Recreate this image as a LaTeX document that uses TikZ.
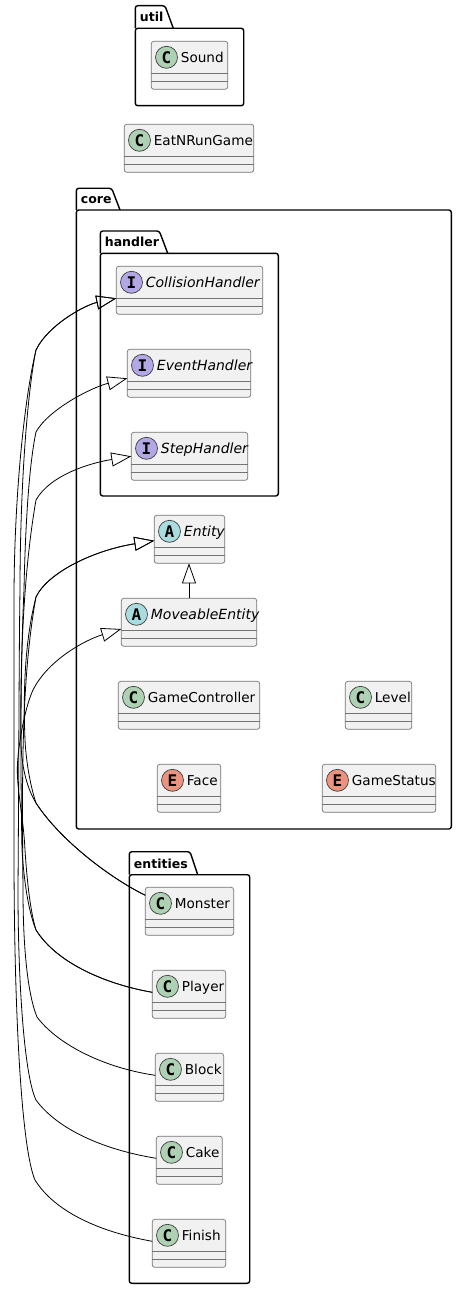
\documentclass[tikz,border=0pt]{standalone}
\usepackage{fontspec}
\setmainfont{DejaVu Sans}
\setmonofont{DejaVu Sans Mono}
\usetikzlibrary{arrows.meta}

\definecolor{spotC}{HTML}{ADD1B2}
\definecolor{spotI}{HTML}{B4A7E5}
\definecolor{spotA}{HTML}{A9DCDF}
\definecolor{spotE}{HTML}{EB937F}

\tikzset{
  classbox/.style={draw=black!55,fill=black!5.5,line width=.7pt,rounded corners=2.5pt,
    inner sep=0pt,outer sep=0pt,minimum height=48pt,anchor=north west},
  classline/.style={draw=black!55,line width=.7pt},
  spot/.style={circle,draw=black!75,line width=.7pt,inner sep=0pt,minimum size=22pt,
    font=\fontsize{16}{16}\ttfamily\bfseries},
  classtext/.style={anchor=base west,inner sep=0pt,font=\fontsize{13.6}{14}\selectfont},
  pkgbox/.style={draw=black,line width=1.4pt,rounded corners=2.5pt,inner sep=0pt,outer sep=0pt,anchor=north west},
  pkgtab/.style={draw=black,line width=1.4pt,rounded corners=2.5pt},
  pkgtext/.style={anchor=base west,inner sep=0pt,font=\fontsize{12.5}{13}\selectfont\bfseries},
  dep/.style={draw=black,line width=.8pt},
  isa/.style={dep,-{Triangle[open,length=20pt,width=14pt,line width=.8pt]}}
}

% italic class names run a little wider
\newcommand{\absname}[1]{\fontsize{14}{14}\selectfont\itshape #1}

% name, left, top, width, letter, colour, text
\newcommand{\umlclass}[7]{
  \node[classbox,minimum width=#4pt] (#1) at (#2,#3) {};
  \draw[classline] ([yshift=-32pt]#1.north west) -- ([yshift=-32pt]#1.north east);
  \draw[classline] ([yshift=-40pt]#1.north west) -- ([yshift=-40pt]#1.north east);
  \node[spot,fill=#6] (#1spot) at ([xshift=15.2pt,yshift=-16pt]#1.north west) {#5};
  \node[classtext] (#1text) at ([xshift=29.4pt,yshift=-21pt]#1.north west) {#7};
}

% name, left, body top, width, height, tab height, tab top length, tab bottom length
\newcommand{\umlpackage}[8]{
  \node[pkgbox,minimum width=#4pt,minimum height=#5pt] (#1) at (#2,#3) {};
  \draw[pkgtab] (#1.north west) -- ++(0pt,#6pt) -- ++(#7pt,0pt) -- ([xshift=#8pt]#1.north west);
  \node[pkgtext] (#1name) at ([xshift=4.4pt,yshift=6.6pt]#1.north west) {#1};
}

\begin{document}
\begin{tikzpicture}[x=1pt,y=-1pt]
  \useasboundingbox (0,0) rectangle (457,1289);

  \umlpackage{util}{135.3}{28.3}{108.4}{77.4}{22.6}{29.7}{38}
  \umlpackage{core}{76.3}{210}{375}{619}{21.7}{35.4}{43.7}
  \umlpackage{handler}{100.3}{253.3}{178}{242.7}{22.3}{59}{67.4}
  \umlpackage{entities}{129.3}{874.7}{120.4}{408.6}{23}{60.7}{68.4}

  \umlclass{Sound}{151.3}{41.3}{76.4}{C}{spotC}{Sound}
  \umlclass{EatNRunGame}{124.3}{124.3}{129.4}{C}{spotC}{EatNRunGame}
  \umlclass{CollisionHandler}{116.3}{266.3}{146.4}{I}{spotI}{\absname{CollisionHandler}}
  \umlclass{EventHandler}{127.3}{349.3}{123.4}{I}{spotI}{\absname{EventHandler}}
  \umlclass{StepHandler}{131.3}{432.3}{116.4}{I}{spotI}{\absname{StepHandler}}
  \umlclass{Entity}{154.3}{515.3}{70.4}{A}{spotA}{\absname{Entity}}
  \umlclass{MoveableEntity}{121.3}{598.3}{135.4}{A}{spotA}{\absname{MoveableEntity}}
  \umlclass{GameController}{118.3}{681.3}{141.4}{C}{spotC}{GameController}
  \umlclass{Level}{345.3}{681.3}{66.4}{C}{spotC}{Level}
  \umlclass{Face}{157.3}{764.3}{63.4}{E}{spotE}{Face}
  \umlclass{GameStatus}{322.3}{764.3}{113.4}{E}{spotE}{GameStatus}
  \umlclass{Monster}{145.3}{887.3}{88.4}{C}{spotC}{Monster}
  \umlclass{Player}{152.3}{970.3}{73.4}{C}{spotC}{Player}
  \umlclass{Block}{155.3}{1053.3}{68.4}{C}{spotC}{Block}
  \umlclass{Cake}{156.3}{1136.3}{66}{C}{spotC}{Cake}
  \umlclass{Finish}{152.3}{1219.3}{73.4}{C}{spotC}{Finish}

  \draw[isa] (MoveableEntity.north) -- (MoveableEntity.north |- Entity.south);

  \draw[isa] ([yshift=2pt]Finish.west) .. controls (100,1232) and (55,1212) .. (35,1180)
    .. controls (22,1150) and (14,1020) .. (14,850) .. controls (14,750) and (14,680) .. (14,600)
    .. controls (14,500) and (24,400) .. (36,350)
    .. controls (48,325) and (85,305) .. ([yshift=-8pt]CollisionHandler.west);
  \draw[isa] ([yshift=2pt]Cake.west) .. controls (105,1150) and (58,1130) .. (36,1100)
    .. controls (24,1075) and (18,980) .. (18,890) .. controls (19,750) and (19,650) .. (20,590)
    .. controls (20,500) and (26,400) .. (36,350)
    .. controls (48,325) and (85,305) .. ([yshift=-8pt]CollisionHandler.west);
  \draw[isa] ([yshift=2pt]Block.west) .. controls (105,1068) and (58,1045) .. (37,1017)
    .. controls (28,995) and (23,950) .. (23,890) .. controls (22,780) and (21,680) .. (36,597)
    .. controls (48,572) and (95,550) .. ([yshift=-1.4pt]Entity.west);
  \draw[isa] ([yshift=16pt]Monster.west) .. controls (110,878) and (60,840) .. (36,803)
    .. controls (30,785) and (26,760) .. (25,740) .. controls (23,690) and (25,640) .. (36,597)
    .. controls (48,572) and (95,550) .. ([yshift=-1.4pt]Entity.west);
  \draw[isa] ([yshift=16pt]Monster.west) .. controls (110,878) and (60,840) .. (36,803)
    .. controls (28,790) and (22,770) .. (21,745) .. controls (20,680) and (22,580) .. (36,500)
    .. controls (50,475) and (90,463) .. (StepHandler.west);
  \draw[isa] ([yshift=2pt]Player.west) .. controls (110,985) and (58,965) .. (36,930)
    .. controls (28,910) and (24,880) .. (22,850) .. controls (20,750) and (21,650) .. (24,590)
    .. controls (25,540) and (28,470) .. (36,432)
    .. controls (48,410) and (90,388) .. ([yshift=-5pt]EventHandler.west);
  \draw[isa] ([yshift=2pt]Player.west) .. controls (110,985) and (58,965) .. (36,930)
    .. controls (30,910) and (27,880) .. (25,850) .. controls (23,810) and (15,785) .. (18,757)
    .. controls (20,735) and (26,705) .. (33,690)
    .. controls (48,660) and (85,640) .. ([yshift=-6.7pt]MoveableEntity.west);

\end{tikzpicture}
\end{document}
